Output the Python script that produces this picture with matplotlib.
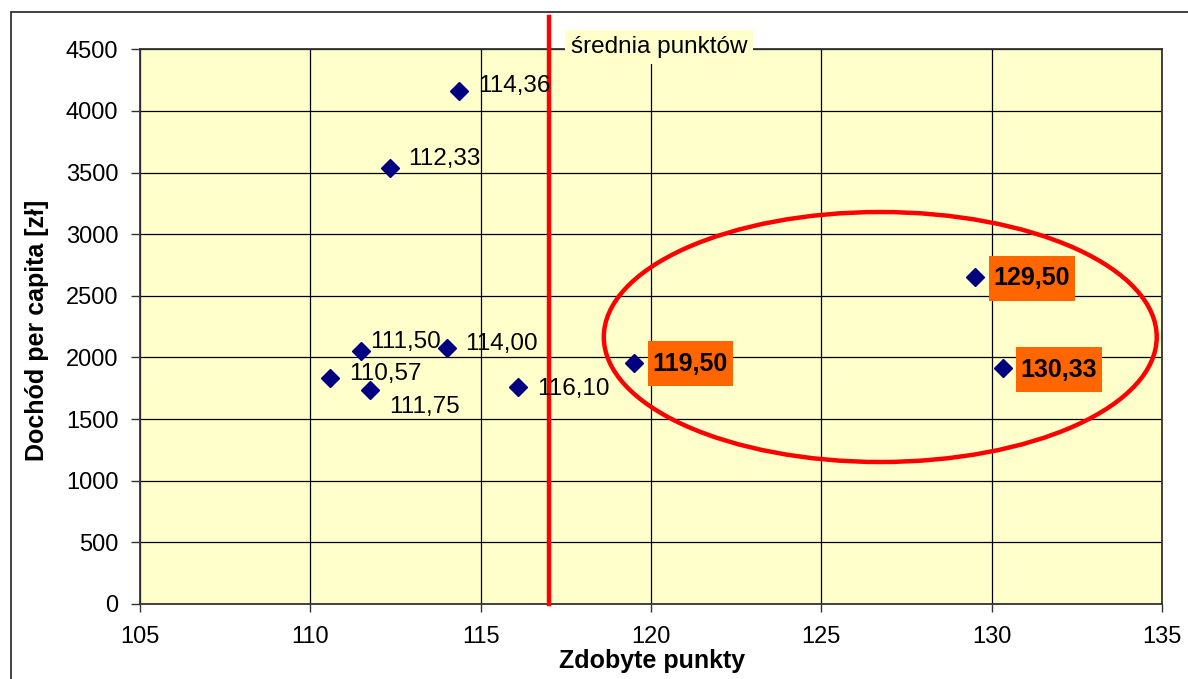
import matplotlib
matplotlib.use('agg')
import matplotlib.pyplot as plt
from matplotlib.patches import Ellipse, Rectangle
from matplotlib.path import Path

plt.rcParams['font.family'] = ['Liberation Sans', 'DejaVu Sans']

# punkty vs dochod per capita
punkty = [114.36, 112.33, 111.50, 114.00, 110.57, 111.75, 116.10, 119.50, 129.50, 130.33]
dochod = [4165, 3540, 2055, 2074, 1831, 1736, 1763, 1953, 2655, 1912]

x_ticks = [105, 110, 115, 120, 125, 130, 135]
y_ticks = [0, 500, 1000, 1500, 2000, 2500, 3000, 3500, 4000, 4500]

# label offsets in points (dx, dy)
label_offsets = [(14.0, 3.5), (13.2, 6.0), (6.5, 6.0), (13.0, 3.0), (14.0, 3.0),
                 (14.0, -12.5), (13.6, -1.5), (13.5, -0.5), (13.7, -1.2), (12.7, -1.0)]

# highlighted group (ellipse)
ell_center = (126.73, 2166)
ell_width = 16.23
ell_height = 2028

srednia = sum(punkty) / len(punkty)


def wide_box(x0, y0, width, height, mutation_size):
    padx = 0.2 * mutation_size
    pady = 0.42 * mutation_size
    x0, y0 = x0 - padx, y0 - pady
    x1, y1 = x0 + width + 2 * padx, y0 + height + 2 * pady
    return Path([(x0, y0), (x1, y0), (x1, y1), (x0, y1), (x0, y0)], closed=True)


fig = plt.figure(figsize=(11.88, 6.79), dpi=100)
fig.add_artist(Rectangle((11 / 1188, -0.1), 1.2, 1.1 - 12 / 679, transform=fig.transFigure,
                         fill=False, ec='#333333', lw=1.3))
ax = fig.add_axes([140 / 1188, 1 - 604 / 679, 1022 / 1188, 554.7 / 679])
ax.set_facecolor('#FFFFCC')

ax.set_xlim(105, 135)
ax.set_ylim(0, 4500)
ax.set_xticks(x_ticks)
ax.set_yticks(y_ticks)
ax.grid(True, color='black', lw=0.9)
ax.set_axisbelow(True)
for s in ax.spines.values():
    s.set_color('#333333')
    s.set_linewidth(1.3)
ax.tick_params(axis='both', labelsize=17, direction='out', color='#333333', width=1)
ax.tick_params(axis='x', length=5.5, pad=10)
ax.tick_params(axis='y', length=6.5, pad=9)

ax.plot(punkty, dochod, linestyle='none', marker='D', markersize=9,
        color='#000080', zorder=5)

for x, y, (dx, dy) in zip(punkty, dochod, label_offsets):
    lab = '{:.2f}'.format(x).replace('.', ',')
    if x > srednia:
        ax.annotate(lab, (x, y), xytext=(dx, dy), textcoords='offset points',
                    ha='left', va='center', fontsize=18, fontweight='bold',
                    bbox=dict(boxstyle=wide_box, fc='#FF6600', ec='none'), zorder=6)
    else:
        ax.annotate(lab, (x, y), xytext=(dx, dy), textcoords='offset points',
                    ha='left', va='center', fontsize=17.5, zorder=6)

# mean line
ax.axvline(srednia, ymin=0, ymax=1.058, color='red', lw=3.2, clip_on=False, zorder=4)
ax.annotate('średnia punktów', (srednia, 4500), xytext=(16, 1.5), textcoords='offset points',
            ha='left', va='center', fontsize=17.5, annotation_clip=False,
            bbox=dict(boxstyle='square,pad=0.25', fc='#FFFFCC', ec='none'), zorder=6)

ax.add_patch(Ellipse(ell_center, ell_width, ell_height, fill=False, ec='red', lw=3.2, zorder=4))

ax.set_xlabel('Zdobyte punkty', fontsize=18, fontweight='bold')
ax.set_ylabel('Dochód per capita [zł]', fontsize=18, fontweight='bold')
ax.xaxis.set_label_coords(0.501, -0.081)
ax.yaxis.set_label_coords(-0.089, 0.494)

plt.savefig('out.png', dpi=100)
